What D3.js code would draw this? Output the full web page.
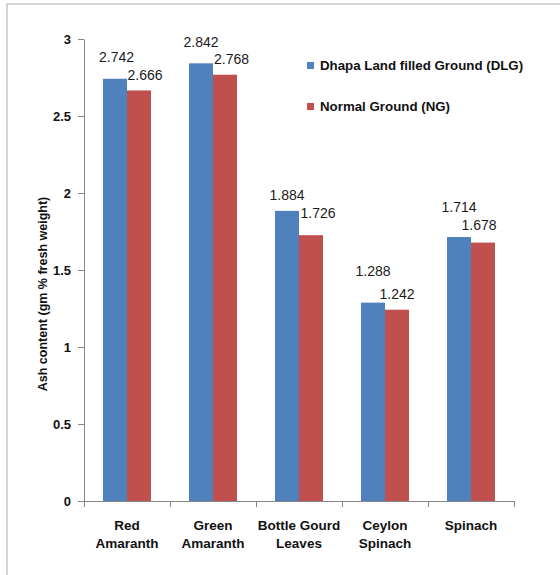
<!DOCTYPE html>
<html>
<head>
<meta charset="utf-8">
<script src="https://cdn.jsdelivr.net/npm/d3@7"></script>
<style>
  html, body { margin: 0; padding: 0; background: #fff; overflow: hidden; }
  svg { display: block; }
  text { font-family: "Liberation Sans", Arial, sans-serif; fill: #111; }
</style>
</head>
<body>
<svg id="chart" width="560" height="575"></svg>
<script>
// Ash content of leafy vegetables grown on two soil types
const categories = ["Red Amaranth", "Green Amaranth", "Bottle Gourd Leaves", "Ceylon Spinach", "Spinach"];
const seriesNames = ["Dhapa Land filled Ground (DLG)", "Normal Ground (NG)"];
const dlgValues = [2.742, 2.842, 1.884, 1.288, 1.714];
const ngValues = [2.666, 2.768, 1.726, 1.242, 1.678];
const yTickValues = [0, 0.5, 1, 1.5, 2, 2.5, 3];
const yAxisTitle = "Ash content (gm % fresh weight)";

// layout
const colors = ["#4F81BD", "#C0504D"];
const plot = { left: 84, right: 514, top: 39, bottom: 501 };
// hand-placed nudges for value labels [dx, dy from bar top]
const labelShift = [
  [[1.5, -17], [0, -16], [0, -11], [0, -27], [0, -25]],
  [[6, -10], [6.5, -11], [7, -17], [0, -11], [-4, -13]]
];

const svg = d3.select("#chart");

// outer frame: only the top and left edges fall inside the view
svg.append("path")
  .attr("d", "M7,575V4H560")
  .attr("fill", "none").attr("stroke", "#c6c6c6").attr("stroke-width", 1.5);

const y = d3.scaleLinear().domain([0, 3]).range([plot.bottom, plot.top]);
const x = d3.scaleBand().domain(categories).range([plot.left, plot.right])
  .paddingInner(0.442).paddingOuter(0.221);
const xs = d3.scaleBand().domain([0, 1]).range([0, x.bandwidth()]);

const series = [dlgValues, ngValues];

// bars
series.forEach((vals, s) => {
  svg.append("g").selectAll("rect")
    .data(vals)
    .join("rect")
    .attr("x", (d, i) => x(categories[i]) + xs(s))
    .attr("y", d => y(d))
    .attr("width", xs.bandwidth())
    .attr("height", d => y(0) - y(d))
    .attr("fill", colors[s]);
});

// value labels
series.forEach((vals, s) => {
  svg.append("g").selectAll("text")
    .data(vals)
    .join("text")
    .attr("x", (d, i) => x(categories[i]) + xs(s) + xs.bandwidth() / 2 + labelShift[s][i][0])
    .attr("y", (d, i) => y(d) + labelShift[s][i][1])
    .attr("text-anchor", "middle")
    .style("font-size", "14px")
    .style("fill", "#1a1a1a")
    .text(d => d3.format(".3f")(d));
});

// y axis
const yAxis = svg.append("g")
  .attr("transform", `translate(${plot.left},0)`)
  .call(d3.axisLeft(y).tickValues(yTickValues).tickSize(6).tickSizeOuter(0).tickPadding(7).tickFormat(String));
yAxis.select(".domain").attr("stroke", "#868686");
yAxis.selectAll(".tick line").attr("stroke", "#868686");
yAxis.selectAll(".tick text")
  .style("font-family", "'Liberation Sans', Arial, sans-serif")
  .style("font-size", "13px").style("font-weight", "bold").attr("fill", "#111");

// x axis: tick marks at category boundaries
const xEdges = d3.scaleLinear().domain([0, categories.length]).range([plot.left, plot.right]);
const xAxis = svg.append("g")
  .attr("transform", `translate(0,${plot.bottom})`)
  .call(d3.axisBottom(xEdges).tickValues(d3.range(categories.length + 1)).tickSize(6).tickSizeOuter(0).tickFormat(""));
xAxis.select(".domain").attr("stroke", "#868686");
xAxis.selectAll(".tick line").attr("stroke", "#868686");

// category labels (wrapped at the last space)
const catG = svg.append("g").selectAll("text")
  .data(categories)
  .join("text")
  .attr("text-anchor", "middle")
  .attr("transform", d => `translate(${x(d) + x.bandwidth() / 2},530)`)
  .style("font-size", "13.5px").style("font-weight", "bold");
catG.each(function (d) {
  const k = d.lastIndexOf(" ");
  const lines = k < 0 ? [d] : [d.slice(0, k), d.slice(k + 1)];
  d3.select(this).selectAll("tspan")
    .data(lines)
    .join("tspan")
    .attr("x", 0)
    .attr("dy", (l, j) => j === 0 ? 0 : 18)
    .text(l => l);
});

// y axis title
svg.append("text")
  .attr("transform", "translate(47,294) rotate(-90)")
  .attr("text-anchor", "middle")
  .style("font-size", "12.5px").style("font-weight", "bold")
  .text(yAxisTitle);

// legend
const legend = svg.append("g").selectAll("g")
  .data(seriesNames)
  .join("g")
  .attr("transform", (d, i) => `translate(307,${62 + i * 41})`);
legend.append("rect")
  .attr("width", 7).attr("height", 7)
  .attr("fill", (d, i) => colors[i]);
legend.append("text")
  .attr("x", 13).attr("y", 8)
  .style("font-size", "13.3px").style("font-weight", "bold")
  .text(d => d);
</script>
</body>
</html>
